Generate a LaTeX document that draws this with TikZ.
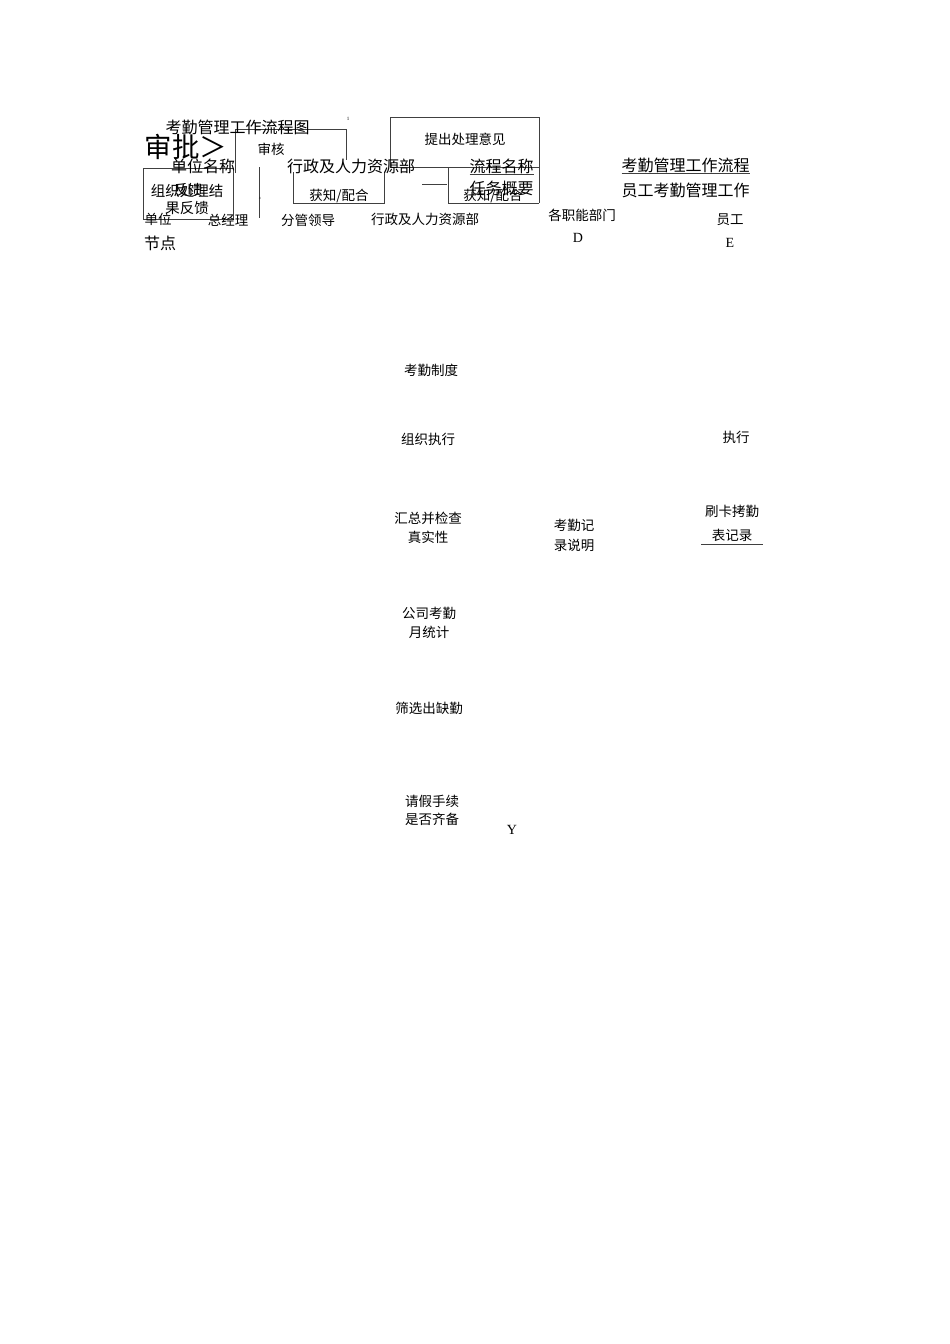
\documentclass[tikz,border=0pt]{standalone}
\usepackage{fontspec}
\setmainfont{Liberation Serif}
\newfontfamily\cjk{Noto Sans CJK SC}

\begin{document}
\begin{tikzpicture}[x=1pt,y=-1pt,inner sep=0pt,outer sep=0pt,line width=0.9pt,
lbl/.style={font=\fontsize{13.5}{19}\selectfont\cjk,align=center},
head/.style={font=\fontsize{16}{18}\selectfont\cjk},
latin/.style={font=\fontsize{14}{16}\selectfont},
speck/.style={font=\fontsize{5}{6}\selectfont},
frame/.style={draw=black!75}]
\useasboundingbox (0,0) rectangle (950,1344);

% header lines
\draw[frame] (143,168) rectangle (233,219);
\draw[frame] (235,173) -- (235,129) -- (346,129) -- (346,160);
\draw[frame] (259,167) -- (259,218);
\draw[frame] (293,172) -- (293,203) -- (384,203) -- (384,172);
\draw[frame] (390,167) -- (390,117) -- (539,117) -- (539,203);
\draw[frame] (390,167) -- (539,167);
\draw[frame] (448,167) -- (448,203) -- (539,203);
\draw[frame] (422,184) coordinate (dash1) -- (447,184) coordinate (dash2);

% header texts
\draw (237.5,127) node[head] (title) {考勤管理工作流程图};
\draw (186,147) node[font=\fontsize{27.5}{30}\selectfont\cjk] (shenpi) {审批＞};
\draw (271,149) node[lbl] (shenhe) {审核};
\draw (203,166) node[head] (danwei) {单位名称};
\draw (351,166) node[head] (xingzheng) {行政及人力资源部};
\draw (465,139) node[lbl] (tichu) {提出处理意见};
\draw (501.5,166) node[head] (liucheng) {流程名称};
\draw (501.5,188) node[head] (renwu) {任务概要};
\draw (187,191) node[font=\fontsize{14.5}{16}\selectfont\cjk] (zuzhi) {组织处理结};
\draw (188,190) node[font=\fontsize{14.5}{16}\selectfont\cjk] (fankui) {反馈};
\draw (187,208) node[font=\fontsize{14.5}{16}\selectfont\cjk] (guofankui) {果反馈};
\draw (339,196) node[lbl] (huozhi1) {获知/配合};
\draw (493,196) node[lbl] (huozhi2) {获知/配合};
\draw (348,119) node[speck] (m1) {1};
\draw (260,199) node[speck] (m2) {\^{}};

\draw[frame] ([yshift=-1pt]liucheng.south west) -- ([yshift=-1pt]liucheng.south east);

% column heads
\draw (158,219) node[lbl] (unit) {单位};
\draw (160,243) node[head] (node) {节点};
\draw (228,220) node[lbl] (gm) {总经理};
\draw (308,220) node[lbl] (vp) {分管领导};
\draw (425,219) node[lbl] (hr) {行政及人力资源部};
\draw (582,215) node[lbl] (dept) {各职能部门};
\draw (578,238) node[latin] (colD) {D};
\draw (685.5,165) node[head] (flowname) {考勤管理工作流程};
\draw (685.5,190) node[head] (task) {员工考勤管理工作};
\draw (730,220) node[lbl] (staff) {员工};
\draw (730,243) node[latin] (colE) {E};

\draw[frame] ([yshift=-1pt]flowname.south west) -- ([yshift=-1pt]flowname.south east);

% steps
\draw (431,370) node[lbl] (rule) {考勤制度};
\draw (428,439) node[lbl] (organize) {组织执行};
\draw (736,437) node[lbl] (execute) {执行};
\draw (428,527.5) node[lbl] (check) {汇总并检查\\真实性};
\draw (574,535) node[lbl] (record) {考勤记\\[1pt]录说明};
\draw (732,523) node[lbl] (card) {刷卡拷勤\\[5pt]表记录};
\draw (429,623) node[lbl] (month) {公司考勤\\月统计};
\draw (429,708) node[lbl] (absent) {筛选出缺勤};
\draw (432,810) node[font=\fontsize{13.5}{18}\selectfont\cjk,align=center] (leave) {请假手续\\是否齐备};
\draw (512,830) node[latin] (yes) {Y};

\draw[frame] ([xshift=-4pt,yshift=-3pt]card.south west) -- ([xshift=4pt,yshift=-3pt]card.south east);
\end{tikzpicture}
\end{document}
